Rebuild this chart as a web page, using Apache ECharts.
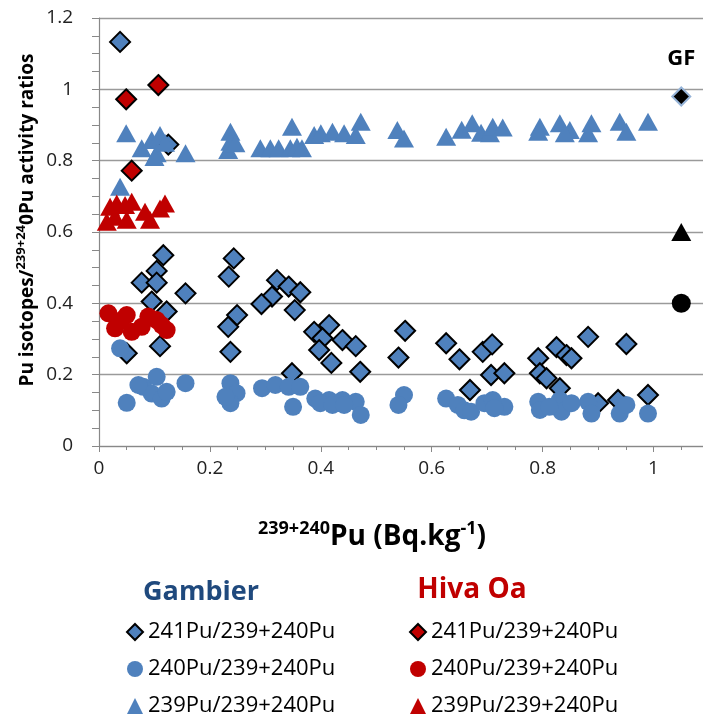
<!DOCTYPE html>
<html>
<head>
<meta charset="utf-8">
<script src="https://cdn.jsdelivr.net/npm/echarts@6/dist/echarts.min.js"></script>
<style>
  html, body { margin: 0; padding: 0; background: #fff; }
  #chart { width: 703px; height: 720px; }
</style>
</head>
<body>
<div id="chart"></div>
<script>
// Gambier 241Pu/239+240Pu  [239+240Pu, ratio]
const gambier241 = [
  [0.038, 1.133], [0.125, 0.845], [0.116, 0.535], [0.104, 0.491], [0.077, 0.458], [0.104, 0.458],
  [0.156, 0.428], [0.095, 0.405], [0.122, 0.377], [0.110, 0.280], [0.050, 0.260],
  [0.243, 0.526], [0.234, 0.475], [0.321, 0.465], [0.342, 0.447], [0.363, 0.431], [0.312, 0.419],
  [0.293, 0.398], [0.353, 0.381], [0.249, 0.367], [0.233, 0.334], [0.237, 0.264], [0.388, 0.320],
  [0.415, 0.339], [0.403, 0.302], [0.439, 0.297], [0.463, 0.280], [0.397, 0.269], [0.419, 0.233],
  [0.471, 0.208], [0.348, 0.204], [0.552, 0.323], [0.540, 0.248], [0.626, 0.288], [0.650, 0.243],
  [0.669, 0.157], [0.692, 0.264], [0.709, 0.285], [0.707, 0.199], [0.731, 0.204], [0.792, 0.246],
  [0.795, 0.204], [0.807, 0.190], [0.825, 0.277], [0.843, 0.255], [0.852, 0.246], [0.882, 0.306],
  [0.951, 0.286], [0.831, 0.162], [0.990, 0.143], [0.936, 0.129], [0.900, 0.120]
];
// Gambier 240Pu/239+240Pu
const gambier240 = [
  [0.038, 0.274], [0.050, 0.121], [0.080, 0.166], [0.104, 0.194], [0.095, 0.147], [0.113, 0.133],
  [0.122, 0.152], [0.156, 0.176], [0.071, 0.171],
  [0.237, 0.176], [0.248, 0.148], [0.237, 0.120], [0.228, 0.138], [0.294, 0.162], [0.318, 0.171],
  [0.342, 0.166], [0.363, 0.166], [0.350, 0.110], [0.390, 0.133], [0.415, 0.129], [0.439, 0.129],
  [0.399, 0.120], [0.421, 0.115], [0.463, 0.124], [0.472, 0.087], [0.442, 0.115], [0.550, 0.143],
  [0.540, 0.115], [0.626, 0.133], [0.647, 0.115], [0.659, 0.100], [0.671, 0.096], [0.695, 0.120],
  [0.710, 0.129], [0.731, 0.110], [0.713, 0.106], [0.792, 0.124], [0.795, 0.101], [0.831, 0.129],
  [0.834, 0.096], [0.852, 0.120], [0.812, 0.110], [0.882, 0.124], [0.888, 0.091], [0.939, 0.091],
  [0.951, 0.115], [0.990, 0.091]
];
// Gambier 239Pu/239+240Pu
const gambier239 = [
  [0.049, 0.877], [0.077, 0.835], [0.095, 0.858], [0.110, 0.872], [0.104, 0.821], [0.119, 0.850],
  [0.156, 0.821], [0.038, 0.727], [0.100, 0.810],
  [0.237, 0.881], [0.237, 0.853], [0.233, 0.830], [0.246, 0.849], [0.291, 0.835], [0.309, 0.835],
  [0.324, 0.835], [0.348, 0.895], [0.345, 0.835], [0.357, 0.839], [0.366, 0.835], [0.388, 0.872],
  [0.400, 0.877], [0.421, 0.881], [0.442, 0.877], [0.472, 0.909], [0.463, 0.872], [0.538, 0.886],
  [0.550, 0.862], [0.626, 0.867], [0.654, 0.887], [0.673, 0.905], [0.689, 0.878], [0.705, 0.877],
  [0.710, 0.895], [0.728, 0.893], [0.795, 0.895], [0.792, 0.881], [0.831, 0.905], [0.849, 0.886],
  [0.840, 0.877], [0.888, 0.905], [0.882, 0.877], [0.939, 0.909], [0.951, 0.881], [0.990, 0.909]
];
// Hiva Oa
const hivaoa241 = [[0.107, 1.012], [0.049, 0.972], [0.059, 0.772]];
const hivaoa240 = [
  [0.017, 0.372], [0.050, 0.367], [0.029, 0.330], [0.059, 0.320], [0.089, 0.363],
  [0.104, 0.353], [0.122, 0.325], [0.077, 0.334], [0.041, 0.353], [0.113, 0.339]
];
const hivaoa239 = [
  [0.020, 0.671], [0.032, 0.680], [0.047, 0.676], [0.059, 0.685], [0.083, 0.657], [0.092, 0.634],
  [0.110, 0.666], [0.119, 0.680], [0.014, 0.629], [0.050, 0.634], [0.029, 0.643]
];
// GF reference values
const gf241 = [[1.05, 0.98]];
const gf239 = [[1.05, 0.60]];
const gf240 = [[1.05, 0.40]];

const BLUE = '#4F81BD';
const RED = '#C00000';
const FONT = 'Open Sans';
const AXIS_GREY = '#888888';

const chart = echarts.init(document.getElementById('chart'));

function diamond (name, data, color) {
  return {
    name: name, type: 'scatter', data: data, symbol: 'diamond', symbolSize: 20,
    itemStyle: { color: color, borderColor: '#000', borderWidth: 2, opacity: 1 }
  };
}
function dots (name, data, color) {
  return {
    name: name, type: 'scatter', data: data, symbol: 'circle', symbolSize: 18,
    itemStyle: { color: color, opacity: 1 }
  };
}
function triangles (name, data, color) {
  return {
    name: name, type: 'scatter', data: data, symbol: 'triangle', symbolSize: [20, 18],
    itemStyle: { color: color, opacity: 1 }
  };
}

const legendText = {
  fontSize: 22, lineHeight: 22, fontFamily: FONT, color: '#000'
};
function shortName (name) {
  return name.slice(name.lastIndexOf(' ') + 1);
}

chart.setOption({
  animation: false,
  textStyle: { fontFamily: FONT },
  // plot runs past the right edge of the picture, like the original
  grid: { left: 99, top: 18, width: 610, height: 428, outerBoundsMode: 'none' },
  xAxis: [{
    type: 'value', min: 0, max: 1.1, interval: 0.2,
    axisLine: { show: true, lineStyle: { color: AXIS_GREY, width: 1.2 } },
    axisTick: { show: true, length: 6, lineStyle: { color: AXIS_GREY } },
    axisLabel: {
      fontSize: 19, color: '#222', margin: 13,
      formatter: v => (v > 1.05 ? '' : String(v))
    },
    splitLine: { show: false }
  }, {
    type: 'value', min: 0, max: 1.1, interval: 0.05, position: 'bottom',
    axisLine: { show: false },
    axisTick: { show: true, length: 4, lineStyle: { color: AXIS_GREY } },
    axisLabel: { show: false },
    splitLine: { show: false }
  }],
  yAxis: {
    type: 'value', min: 0, max: 1.2, interval: 0.2,
    axisLine: { show: true, lineStyle: { color: AXIS_GREY, width: 1.2 } },
    axisTick: { show: true, length: 7, lineStyle: { color: AXIS_GREY } },
    minorTick: { show: true, splitNumber: 4, length: 7, lineStyle: { color: AXIS_GREY } },
    axisLabel: { fontSize: 19, color: '#222', margin: 26 },
    splitLine: { show: true, lineStyle: { color: '#9a9a9a', width: 1.3 } }
  },
  legend: [{
    data: ['Gambier 241Pu/239+240Pu', 'Gambier 240Pu/239+240Pu', 'Gambier 239Pu/239+240Pu'],
    orient: 'vertical', left: 126, top: 621, padding: 0, itemWidth: 16, itemHeight: 16, itemGap: 15,
    textStyle: legendText, formatter: shortName
  }, {
    data: ['Hiva Oa 241Pu/239+240Pu', 'Hiva Oa 240Pu/239+240Pu', 'Hiva Oa 239Pu/239+240Pu'],
    orient: 'vertical', left: 409, top: 621, padding: 0, itemWidth: 16, itemHeight: 16, itemGap: 15,
    textStyle: legendText, formatter: shortName
  }],
  graphic: [{
    type: 'text', x: 28, y: 220, rotation: Math.PI / 2,
    style: {
      text: '{b|Pu isotopes/}{s|239+24}{b|0Pu activity ratios}',
      align: 'center', verticalAlign: 'middle',
      rich: {
        b: { fontSize: 19, fontWeight: 'bold', fontFamily: FONT, fill: '#000', lineHeight: 26 },
        s: { fontSize: 13, fontWeight: 'bold', fontFamily: FONT, fill: '#000', verticalAlign: 'top', lineHeight: 26 }
      }
    }
  }, {
    type: 'text', x: 372, y: 537,
    style: {
      text: '{s|239+240}{b|Pu (Bq.kg}{s|-1}{b|)}',
      align: 'center', verticalAlign: 'middle',
      rich: {
        b: { fontSize: 28, fontWeight: 'bold', fontFamily: FONT, fill: '#000', lineHeight: 34 },
        s: { fontSize: 18, fontWeight: 'bold', fontFamily: FONT, fill: '#000', verticalAlign: 'top', lineHeight: 34 }
      }
    }
  }, {
    type: 'text', x: 201, y: 592,
    style: { text: 'Gambier', fontSize: 27, fontWeight: 'bold', fontFamily: FONT, fill: '#1F497D', align: 'center', verticalAlign: 'middle' }
  }, {
    type: 'text', x: 472, y: 590,
    style: { text: 'Hiva Oa', fontSize: 28, fontWeight: 'bold', fontFamily: FONT, fill: RED, align: 'center', verticalAlign: 'middle' }
  }],
  series: [
    diamond('Gambier 241Pu/239+240Pu', gambier241, BLUE),
    dots('Gambier 240Pu/239+240Pu', gambier240, BLUE),
    triangles('Gambier 239Pu/239+240Pu', gambier239, BLUE),
    diamond('Hiva Oa 241Pu/239+240Pu', hivaoa241, RED),
    dots('Hiva Oa 240Pu/239+240Pu', hivaoa240, RED),
    triangles('Hiva Oa 239Pu/239+240Pu', hivaoa239, RED),
    {
      name: 'GF 241', type: 'scatter', data: gf241, symbol: 'diamond', symbolSize: 18,
      itemStyle: { color: '#000', borderColor: '#95B3D7', borderWidth: 2, opacity: 1 },
      label: {
        show: true, position: 'top', distance: 17, formatter: 'GF',
        fontSize: 22, fontWeight: 'bold', color: '#000', fontFamily: FONT
      }
    },
    {
      name: 'GF 239', type: 'scatter', data: gf239, symbol: 'triangle', symbolSize: [20, 18],
      itemStyle: { color: '#000', opacity: 1 }
    },
    {
      name: 'GF 240', type: 'scatter', data: gf240, symbol: 'circle', symbolSize: 19,
      itemStyle: { color: '#000', opacity: 1 }
    }
  ]
});
</script>
</body>
</html>
